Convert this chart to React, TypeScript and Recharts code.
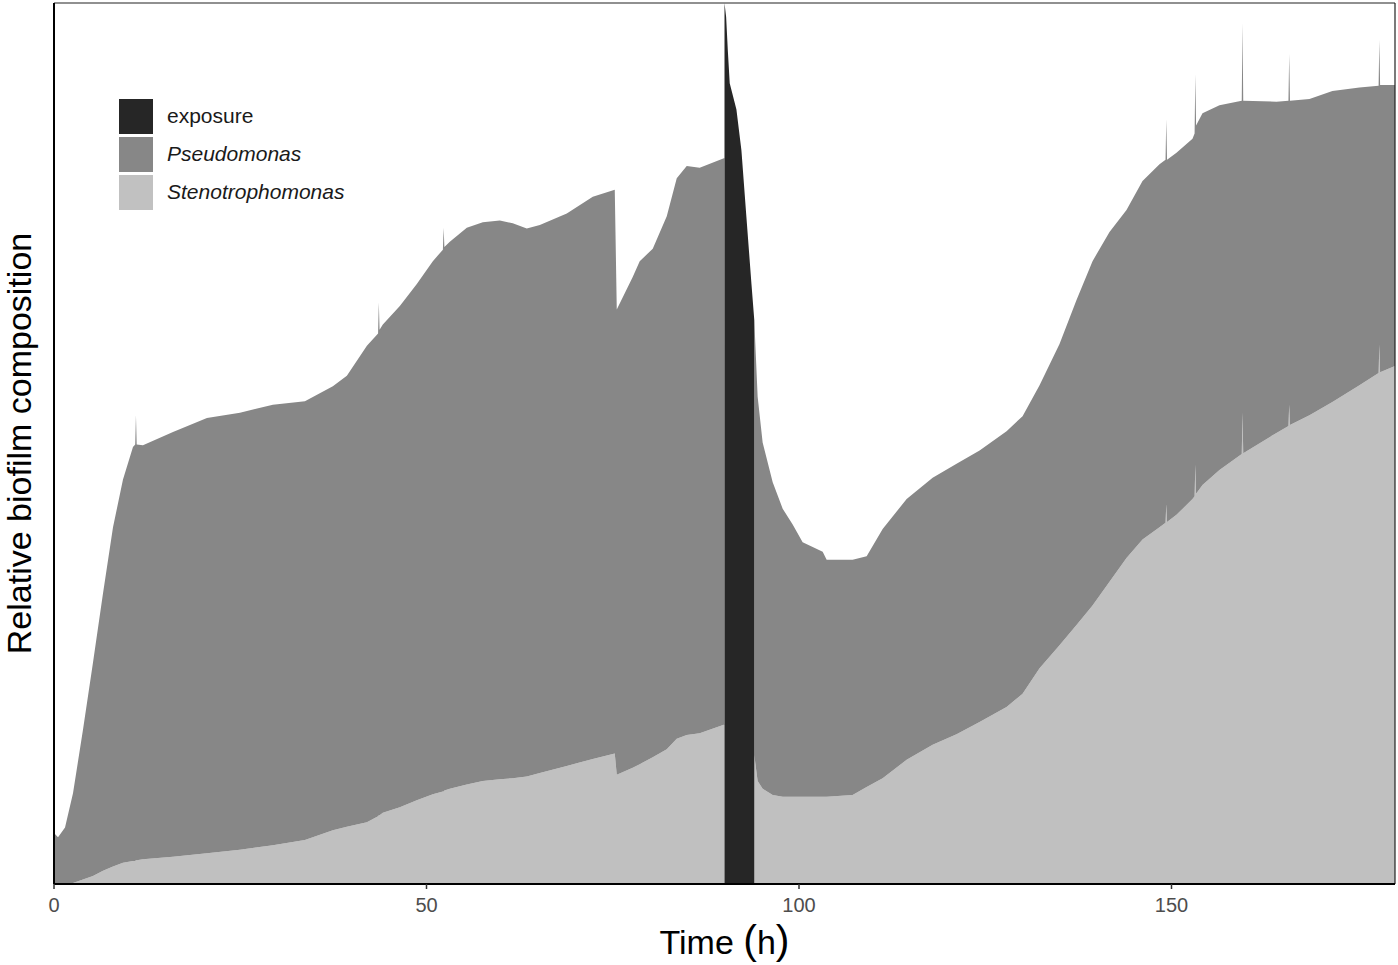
import React from 'react';
import { AreaChart, Area, XAxis, YAxis, ReferenceLine, Legend } from 'recharts';

const FONT = '"Liberation Sans", Arial, Helvetica, sans-serif';

// time (h)
const timeH = [
  0, 0.54, 1.48, 2.55, 3.89, 5.23, 6.58, 7.92, 9.26, 10.6,
  10.9, 11.0, 11.1, 11.94, 15.97, 20.53, 24.96, 29.38, 33.68, 37.43,
  39.31, 42.0, 43.5, 43.6, 43.7, 44.14, 46.42, 48.7, 50.85, 52.2,
  52.3, 52.4, 53.13, 55.41, 57.56, 59.84, 61.58, 63.46, 65.21, 68.83,
  72.32, 75.27, 75.54, 77.68, 78.62, 80.37, 82.25, 83.59, 84.93, 86.67,
  90.0, 90.0, 90.22, 90.44, 90.7, 91.6, 92.27, 92.94, 93.61, 94.0,
  94.0, 94.45, 95.12, 96.47, 97.81, 99.15, 100.49, 103.18, 103.71, 107.2,
  109.08, 111.23, 114.45, 117.94, 121.15, 124.24, 127.86, 130.01, 132.29, 134.97,
  137.25, 139.4, 141.68, 143.96, 146.11, 148.39, 149.2, 149.3, 149.4, 150.67,
  152.82, 153.1, 153.2, 153.3, 154.16, 156.44, 159.43, 159.53, 159.63, 164.09,
  165.7, 165.8, 165.9, 168.52, 171.6, 175.23, 177.8, 177.9, 178.0, 180,
];

// Stenotrophomonas layer
const stenotrophomonas = [
  0, 0, 0.1, 0.1, 0.5, 0.9, 1.5, 2.0, 2.4, 2.6,
  2.6, 2.7, 2.7, 2.8, 3.1, 3.5, 3.9, 4.4, 5.0, 6.1,
  6.5, 7.0, 7.7, 7.8, 7.8, 8.1, 8.7, 9.5, 10.2, 10.5,
  10.5, 10.6, 10.8, 11.3, 11.7, 11.9, 12.0, 12.2, 12.6, 13.4,
  14.2, 14.8, 12.4, 13.2, 13.6, 14.4, 15.3, 16.5, 16.9, 17.1,
  18.1, 0, 0, 0, 0, 0, 0, 0, 0, 0,
  14.6, 11.7, 10.8, 10.1, 9.9, 9.9, 9.9, 9.9, 9.9, 10.1,
  11.0, 12.0, 14.1, 15.8, 17.0, 18.4, 20.1, 21.6, 24.5, 27.1,
  29.4, 31.6, 34.3, 37.0, 39.1, 40.5, 41.0, 43.1, 41.1, 41.9,
  43.7, 44.0, 47.6, 44.3, 45.3, 47.0, 48.8, 53.5, 48.9, 51.2,
  52.0, 54.4, 52.1, 53.2, 54.7, 56.6, 58.0, 61.2, 58.1, 58.8,
];

// Pseudomonas layer
const pseudomonas = [
  5.8, 5.3, 6.3, 10.2, 17.0, 24.2, 31.5, 38.5, 43.5, 47.0,
  47.3, 50.5, 47.2, 47.0, 48.2, 49.4, 49.6, 50.0, 49.8, 50.4,
  51.2, 54.1, 54.8, 58.2, 55.1, 55.4, 56.9, 58.6, 60.5, 61.5,
  64.0, 61.7, 62.1, 63.2, 63.4, 63.4, 63.0, 62.2, 62.2, 62.7,
  63.8, 64.0, 52.8, 55.7, 57.1, 57.7, 60.5, 63.6, 64.6, 64.2,
  64.3, 0, 0, 0, 0, 0, 0, 0, 0, 0,
  49.4, 43.6, 39.3, 35.5, 32.7, 30.9, 28.9, 27.8, 26.9, 26.7,
  26.2, 28.3, 29.6, 30.3, 30.7, 30.8, 31.3, 31.5, 32.1, 34.2,
  36.9, 39.1, 39.7, 39.5, 40.7, 41.2, 41.2, 43.7, 41.1, 41.1,
  40.9, 41.2, 44.3, 41.8, 42.2, 41.4, 40.1, 44.2, 40.0, 37.6,
  36.9, 39.8, 36.8, 35.9, 35.3, 33.8, 32.6, 34.6, 32.6, 31.9,
];

// exposure layer
const exposure = [
  0, 0, 0, 0, 0, 0, 0, 0, 0, 0,
  0, 0, 0, 0, 0, 0, 0, 0, 0, 0,
  0, 0, 0, 0, 0, 0, 0, 0, 0, 0,
  0, 0, 0, 0, 0, 0, 0, 0, 0, 0,
  0, 0, 0, 0, 0, 0, 0, 0, 0, 0,
  0, 100, 98.4, 94.7, 90.9, 87.9, 83.3, 75.7, 68.2, 64.0,
  0, 0, 0, 0, 0, 0, 0, 0, 0, 0,
  0, 0, 0, 0, 0, 0, 0, 0, 0, 0,
  0, 0, 0, 0, 0, 0, 0, 0, 0, 0,
  0, 0, 0, 0, 0, 0, 0, 0, 0, 0,
  0, 0, 0, 0, 0, 0, 0, 0, 0, 0,
];

const xTicks = [0, 50, 100, 150];

const legendItems = [
  { key: 'exposure', label: 'exposure', color: '#262626', italic: false },
  { key: 'pseudo', label: 'Pseudomonas', color: '#878787', italic: true },
  { key: 'steno', label: 'Stenotrophomonas', color: '#c1c1c1', italic: true },
];

const data = timeH.map((t, i) => ({
  t,
  steno: stenotrophomonas[i],
  pseudo: pseudomonas[i],
  exposure: exposure[i],
}));

const renderLegend = () => (
  <div style={{ fontFamily: FONT }}>
    {legendItems.map((it) => (
      <div key={it.key} style={{ display: 'flex', alignItems: 'center', height: 38 }}>
        <div style={{ width: 34, height: 35, background: it.color, marginRight: 14 }} />
        <span style={{ fontSize: 21, fontStyle: it.italic ? 'italic' : 'normal', color: '#1a1a1a' }}>
          {it.label}
        </span>
      </div>
    ))}
  </div>
);

const XLabel = (props: any) => {
  const vb = props.viewBox || { x: 54, y: 884, width: 1341, height: 81 };
  const cx = vb.x + vb.width / 2;
  return (
    <text x={cx} y={vb.y + 70} textAnchor="middle" fontFamily={FONT} fill="#000">
      <tspan fontSize={34}>Time </tspan>
      <tspan fontSize={41}>(</tspan>
      <tspan fontSize={34}>h</tspan>
      <tspan fontSize={41}>)</tspan>
    </text>
  );
};

const YLabel = (props: any) => {
  const vb = props.viewBox || { x: 0, y: 3, width: 54, height: 881 };
  const cy = vb.y + vb.height / 2;
  const x = 31;
  return (
    <text
      x={x}
      y={cy}
      transform={`rotate(-90, ${x}, ${cy})`}
      textAnchor="middle"
      fontFamily={FONT}
      fontSize={34}
      fill="#000"
    >
      Relative biofilm composition
    </text>
  );
};

export default function App() {
  return (
    <div style={{ position: 'absolute', left: 0, top: 0, width: 1398, height: 965, background: '#fff' }}>
      <AreaChart width={1398} height={965} data={data} margin={{ top: 3, right: 3, bottom: 0, left: 0 }}>
        <XAxis
          dataKey="t"
          type="number"
          domain={[0, 180]}
          ticks={xTicks}
          allowDataOverflow
          height={81}
          tickSize={5}
          tickMargin={9}
          axisLine={{ stroke: '#000', strokeWidth: 2 }}
          tickLine={{ stroke: '#333', strokeWidth: 1.5 }}
          tick={{ fill: '#4d4d4d', fontSize: 20, fontFamily: FONT }}
          label={<XLabel />}
        />
        <YAxis
          type="number"
          domain={[0, 100]}
          allowDataOverflow
          width={54}
          tick={false}
          tickLine={false}
          axisLine={{ stroke: '#000', strokeWidth: 2 }}
          label={<YLabel />}
        />
        <Area type="linear" dataKey="steno" stackId="1" fill="#c0c0c0" fillOpacity={1} stroke="none" isAnimationActive={false} />
        <Area type="linear" dataKey="pseudo" stackId="1" fill="#878787" fillOpacity={1} stroke="none" isAnimationActive={false} />
        <Area type="linear" dataKey="exposure" stackId="1" fill="#262626" fillOpacity={1} stroke="none" isAnimationActive={false} />
        <ReferenceLine y={100} stroke="#222" strokeWidth={1.2} />
        <ReferenceLine x={180} stroke="#222" strokeWidth={1.2} />
        <Legend
          layout="vertical"
          align="center"
          verticalAlign="middle"
          content={renderLegend}
          wrapperStyle={{ position: 'absolute', left: 119, top: 97, width: 'auto', height: 'auto', margin: 0 }}
        />
      </AreaChart>
    </div>
  );
}
